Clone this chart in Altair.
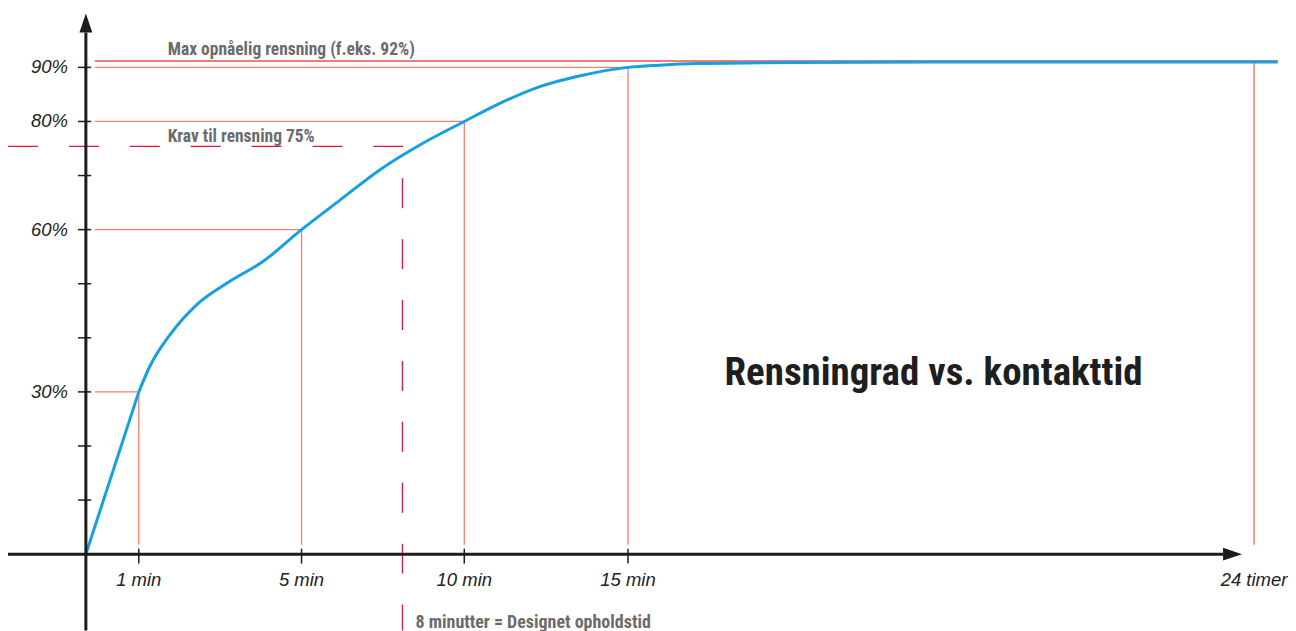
import altair as alt
import pandas as pd

# ---------------- data ----------------
# curve: contact time (minutes) vs. cleaning degree (%)
curve_min = [1, 1.27, 1.76, 2.42, 3.23, 4.05, 5, 6.17, 7.39, 8.62, 10,
             11.07, 12.29, 13.51, 15, 85.5, 176, 404, 858, 1494]
curve_pct = [30, 34.7, 40.5, 46.1, 50.4, 54.1, 60, 65.4, 71.0, 75.6, 80,
             83.3, 86.4, 88.4, 90, 90.4, 90.7, 90.9, 91.0, 91.0]
start_min = [0, 1]
start_pct = [0, 30]

# reference points read on the curve
ref_min = [1, 5, 10, 15]
ref_pct = [30, 60, 80, 90]
ref_line_start = 0.17      # where horizontal guide lines begin (min)
ref_line_base = 1.75       # where vertical guide lines begin (%)

max_pct = 91.2             # drawn level of "max opnåelig rensning"
max_line_end = 1494
day_min = 1440             # 24 timer

design_min = 8.1           # "8 minutter" dashed line
req_pct = 75.4             # "Krav til rensning 75%"

# axis extents (data units)
x_min, x_arrow_base, x_arrow_mid = -1.4717, 1369.5, 1391.1
y_min, y_arrow_base, y_arrow_mid = -14.12, 96.46, 98.2
y_tick_vals = [10, 20, 30, 40, 50, 60, 70, 80, 90]
y_label_vals = [30, 60, 80, 90]
y_label_txt = ["30%", "60%", "80%", "90%"]
x_tick_vals = [1, 5, 10, 15]
x_label_vals = [1, 5, 10, 15, 1440]
x_label_txt = ["1 min", "5 min", "10 min", "15 min", "24 timer"]

title_txt = "Rensningrad vs. kontakttid"
max_txt = "Max opnåelig rensning (f.eks. 92%)"
req_txt = "Krav til rensning 75%"
design_txt = "8 minutter = Designet opholdstid"

# ---------------- scales ----------------
X_DOMAIN = [x_min, 0, 1, 5, 10, 15, 1440, 1517.3]
X_RANGE = [0, 78, 131, 294, 457, 621, 1248, 1282]
xs = alt.Scale(domain=X_DOMAIN, range=X_RANGE, nice=False, zero=False)
ys = alt.Scale(domain=[y_min, 100.89], nice=False, zero=False)


def X(f):
    return alt.X(f, type="quantitative", scale=xs, axis=None)


def Y(f):
    return alt.Y(f, type="quantitative", scale=ys, axis=None)


AXIS_C = "#1c1c1c"
GUIDE_C = "#ef7f72"
MAX_C = "#e6524a"
DASH_C = "#e0163f"
BLUE = "#17a0e0"
GREY = "#6b6b6b"
NARROW = "Roboto Condensed, Open Sans Condensed, DejaVu Sans Condensed, sans-serif"
LABEL_F = "Liberation Sans, Arial, sans-serif"

# ---------------- layers ----------------
h_guides = alt.Chart(pd.DataFrame({"x": [ref_line_start] * 4, "x2": ref_min, "y": ref_pct})).mark_rule(
    color=GUIDE_C, strokeWidth=1.3).encode(x=X("x"), x2=alt.X2("x2"), y=Y("y"))
v_guides = alt.Chart(pd.DataFrame({"x": ref_min, "y": [ref_line_base] * 4, "y2": ref_pct})).mark_rule(
    color=GUIDE_C, strokeWidth=1.3).encode(x=X("x"), y=Y("y"), y2=alt.Y2("y2"))
max_h = alt.Chart(pd.DataFrame({"x": [ref_line_start], "x2": [max_line_end], "y": [max_pct]})).mark_rule(
    color=MAX_C, strokeWidth=1.5).encode(x=X("x"), x2=alt.X2("x2"), y=Y("y"))
max_v = alt.Chart(pd.DataFrame({"x": [day_min], "y": [ref_line_base], "y2": [max_pct]})).mark_rule(
    color=GUIDE_C, strokeWidth=1.5).encode(x=X("x"), y=Y("y"), y2=alt.Y2("y2"))

dash_df = pd.DataFrame({"x": [x_min, design_min, design_min], "y": [req_pct, req_pct, y_min], "o": [0, 1, 2]})
dashed = alt.Chart(dash_df).mark_line(color=DASH_C, strokeWidth=1.3, strokeDash=[30, 31]).encode(
    x=X("x"), y=Y("y"), order="o:Q")

curve_a = alt.Chart(pd.DataFrame({"x": start_min, "y": start_pct})).mark_line(
    color=BLUE, strokeWidth=3).encode(x=X("x"), y=Y("y"))
curve_b = alt.Chart(pd.DataFrame({"x": curve_min, "y": curve_pct})).mark_line(
    color=BLUE, strokeWidth=3, interpolate="monotone").encode(x=X("x"), y=Y("y"))

x_axis = alt.Chart(pd.DataFrame({"x": [x_min], "x2": [x_arrow_base], "y": [0]})).mark_rule(
    color=AXIS_C, strokeWidth=3).encode(x=X("x"), x2=alt.X2("x2"), y=Y("y"))
y_axis = alt.Chart(pd.DataFrame({"x": [0], "y": [y_min], "y2": [y_arrow_base]})).mark_rule(
    color=AXIS_C, strokeWidth=3).encode(x=X("x"), y=Y("y"), y2=alt.Y2("y2"))
x_arrow = alt.Chart(pd.DataFrame({"x": [x_arrow_mid], "y": [0]})).mark_point(
    shape="M-1,-0.68L1,0L-1,0.68Z", filled=True, size=361, color=AXIS_C, opacity=1, strokeWidth=0
).encode(x=X("x"), y=Y("y"))
y_arrow = alt.Chart(pd.DataFrame({"x": [0], "y": [y_arrow_mid]})).mark_point(
    shape="M-0.68,1L0,-1L0.68,1Z", filled=True, size=361, color=AXIS_C, opacity=1, strokeWidth=0
).encode(x=X("x"), y=Y("y"))

y_ticks = alt.Chart(pd.DataFrame({"x": [-0.15] * len(y_tick_vals), "x2": [0.1] * len(y_tick_vals),
                                  "y": y_tick_vals})).mark_rule(color=AXIS_C, strokeWidth=1.5).encode(
    x=X("x"), x2=alt.X2("x2"), y=Y("y"))
x_ticks = alt.Chart(pd.DataFrame({"x": x_tick_vals, "y": [1.0] * 4, "y2": [-1.75] * 4})).mark_rule(
    color=AXIS_C, strokeWidth=1.5).encode(x=X("x"), y=Y("y"), y2=alt.Y2("y2"))

y_labels = alt.Chart(pd.DataFrame({"x": [-0.34] * 4, "y": y_label_vals, "t": y_label_txt})).mark_text(
    align="right", baseline="middle", font=LABEL_F, fontStyle="italic", fontSize=18.5, color="#222222"
).encode(x=X("x"), y=Y("y"), text="t:N")
x_labels = alt.Chart(pd.DataFrame({"x": x_label_vals, "y": [-4.7] * 5, "t": x_label_txt})).mark_text(
    align="center", baseline="middle", font=LABEL_F, fontStyle="italic", fontSize=18.5, color="#222222"
).encode(x=X("x"), y=Y("y"), text="t:N")

notes = alt.Chart(pd.DataFrame({"x": [1.71, 1.71], "y": [92.2, 76.2],
                                "t": [max_txt, req_txt]})).mark_text(
    align="left", baseline="alphabetic", font=NARROW, fontWeight="bold", fontSize=17.5, color=GREY
).encode(x=X("x"), y=Y("y"), text="t:N")
note_design = alt.Chart(pd.DataFrame({"x": [8.5], "y": [-13.66], "t": [design_txt]})).mark_text(
    align="left", baseline="alphabetic", font=NARROW, fontWeight="bold", fontSize=18, color=GREY
).encode(x=X("x"), y=Y("y"), text="t:N")

title = alt.Chart(pd.DataFrame({"x": [710.5], "y": [31.3], "t": [title_txt]})).mark_text(
    align="center", baseline="alphabetic", font=NARROW, fontWeight="bold", fontSize=39, color="#1e1e1e"
).encode(x=X("x"), y=Y("y"), text="t:N")

chart = alt.layer(
    h_guides, v_guides, max_h, max_v, dashed, curve_a, curve_b,
    x_axis, y_axis, x_arrow, y_arrow, y_ticks, x_ticks, y_labels, x_labels, notes, note_design, title
).properties(
    width=1282, height=623, padding=0, autosize=alt.AutoSizeParams(type="none")
).configure_view(stroke=None)

chart.save("out.html", embed_options={"renderer": "svg", "actions": False})
